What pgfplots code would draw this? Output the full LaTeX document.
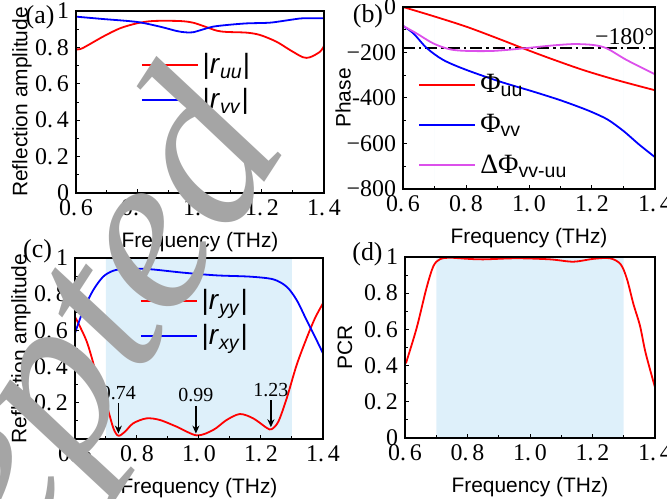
\documentclass[border=0pt]{standalone}
\usepackage{fontspec}
\setmainfont{Liberation Serif}
\setsansfont{Liberation Sans}
\usepackage{pgfplots}
\pgfplotsset{compat=1.18}
\usetikzlibrary{arrows.meta}

\definecolor{band}{RGB}{222,240,250}
\definecolor{cred}{RGB}{255,0,0}
\definecolor{cblue}{RGB}{0,0,255}
\definecolor{cmag}{RGB}{220,80,235}
\definecolor{wm}{RGB}{165,165,165}

\pgfplotsset{
  panel/.style={
    scale only axis, anchor=south west, axis on top,
    xmin=0.6, xmax=1.4,
    xtick={0.6,0.8,1.0,1.2,1.4},
    xticklabels={0.\,6,0.\,8,1.\,0,1.\,2,1.\,4},
    minor x tick num=1, minor y tick num=1,
    tick align=inside, xtick pos=bottom, ytick pos=left,
    major tick length=2.2bp, minor tick length=1.3bp,
    tick style={black, line width=0.5bp},
    axis line style={line width=0.7bp},
    ticklabel style={font=\rmfamily\fontsize{12}{13}\selectfont},
    xlabel={Frequency (THz)},
    every axis x label/.style={at={(0.5,-0.27)}, anchor=center, font=\sffamily\fontsize{10.5}{12}\selectfont},
    legend image code/.code={\draw[##1] (0bp,0bp) -- (28bp,0bp);},
    legend style={draw=none, fill=none, anchor=north west, inner sep=0pt,
      font=\sffamily\fontsize{14}{16}\selectfont, row sep=2bp, cells={anchor=west}},
    legend cell align=left,
    clip mode=individual,
  },
  ylab/.style={every axis y label/.style={at={(#1,0.5)}, rotate=90, anchor=center,
      font=\sffamily\fontsize{10.5}{12}\selectfont}},
  curve/.style={line width=0.9bp, smooth, tension=0.5, no marks},
}

\begin{document}
\begin{tikzpicture}
\useasboundingbox (0,0) rectangle (333.5bp,-249.5bp);

% (a)
\begin{axis}[panel, at={(38bp,-96.5bp)}, width=124bp, height=91bp,
  ymin=0, ymax=1, ytick={0,0.2,0.4,0.6,0.8,1},
  yticklabels={0,0.\,2,0.\,4,0.\,6,0.\,8,1},
  ylabel={Reflection amplitude}, ylab=-0.218,
  legend style={at={(0.26,0.79)}}]
\addplot[curve, cred] coordinates {
 (0.600,0.790) (0.620,0.795) (0.687,0.859) (0.742,0.905) (0.796,0.932) (0.848,0.945)
 (0.935,0.945) (0.977,0.936) (1.010,0.918) (1.054,0.892) (1.086,0.885) (1.151,0.881)
 (1.194,0.868) (1.247,0.831) (1.290,0.786) (1.332,0.746) (1.355,0.746) (1.387,0.776)
 (1.400,0.808)};
\addplot[curve, cblue] coordinates {
 (0.600,0.969) (0.687,0.956) (0.796,0.940) (0.871,0.914) (0.925,0.890) (0.952,0.883)
 (0.977,0.883) (1.010,0.899) (1.042,0.914) (1.086,0.923) (1.151,0.932) (1.226,0.936)
 (1.290,0.951) (1.332,0.960) (1.400,0.960)};
\legend{\textbar\textit{r}\textsubscript{\textit{uu}}\textbar, \textbar\textit{r}\textsubscript{\textit{vv}}\textbar}
\end{axis}

% (b)
\begin{axis}[panel, at={(201.5bp,-94.5bp)}, width=126bp, height=91bp,
  ymin=-800, ymax=0, ytick={-800,-600,-400,-200,0},
  yticklabels={−800,−600,-400,−200,0},
  ylabel={Phase}, ylab=-0.238,
  legend style={at={(0.06,0.655)}, row sep=5.5bp}]
\addplot[fill=band, draw=none, forget plot] coordinates {(0.7,-800) (0.7,0) (1.3,0) (1.3,-800)} \closedcycle;
\addplot[black, line width=0.8bp, dash pattern=on 6bp off 2bp on 1.2bp off 2bp, forget plot] coordinates {(0.6,-180) (1.4,-180)};
\addplot[curve, cred] coordinates {
 (0.600,0) (0.696,-40) (0.802,-87) (0.908,-142) (0.982,-182) (1.067,-226)
 (1.172,-277) (1.278,-321) (1.400,-366)};
\addplot[curve, cblue] coordinates {
 (0.600,-83) (0.633,-116) (0.675,-180) (0.728,-233) (0.802,-277) (0.908,-328)
 (1.014,-372) (1.098,-409) (1.160,-440) (1.200,-462) (1.250,-495) (1.300,-545) (1.350,-605) (1.400,-660)};
\addplot[curve, cmag] coordinates {
 (0.600,-83) (0.643,-116) (0.696,-160) (0.749,-186) (0.802,-193) (0.887,-193)
 (0.982,-182) (1.067,-170) (1.141,-163) (1.204,-167) (1.247,-182) (1.310,-233) (1.400,-296)};
\node[anchor=east, inner sep=0pt, font=\rmfamily\fontsize{12}{14}\selectfont] at (axis cs:1.398,-132) {−180°};
\legend{{\rmfamily Φ}\textsubscript{uu}, {\rmfamily Φ}\textsubscript{vv}, {\rmfamily ΔΦ}\textsubscript{vv-uu}}
\end{axis}

% (c)
\begin{axis}[panel, at={(37.5bp,-219.5bp)}, width=124bp, height=90.5bp,
  ymin=0, ymax=1, ytick={0,0.2,0.4,0.6,0.8,1},
  yticklabels={0,0.\,2,0.\,4,0.\,6,0.\,8,1},
  ylabel={Reflection amplitude}, ylab=-0.218,
  legend style={at={(0.26,0.85)}}]
\addplot[fill=band, draw=none, forget plot] coordinates {(0.7,0) (0.7,1) (1.3,1) (1.3,0)} \closedcycle;
\addplot[curve, cred] coordinates {
 (0.600,0.675) (0.638,0.538) (0.670,0.354) (0.702,0.188) (0.724,0.059) (0.740,0.018)
 (0.761,0.040) (0.788,0.087) (0.831,0.114) (0.874,0.105) (0.928,0.068) (0.993,0.020)
 (1.046,0.050) (1.089,0.105) (1.132,0.138) (1.175,0.114) (1.218,0.062) (1.234,0.054)
 (1.256,0.096) (1.283,0.225) (1.315,0.409) (1.347,0.556) (1.374,0.667) (1.400,0.750)};
\addplot[curve, cblue] coordinates {
 (0.600,0.585) (0.627,0.713) (0.659,0.823) (0.691,0.897) (0.724,0.930) (0.767,0.941)
 (0.842,0.938) (0.949,0.919) (1.057,0.904) (1.165,0.897) (1.240,0.882) (1.283,0.841)
 (1.315,0.768) (1.347,0.657) (1.374,0.565) (1.400,0.473)};
\draw[-{Stealth[length=4bp,width=3.5bp]}, line width=0.8bp] (axis cs:0.740,0.200) -- (axis cs:0.740,0.030);
\draw[-{Stealth[length=4bp,width=3.5bp]}, line width=0.8bp] (axis cs:0.990,0.185) -- (axis cs:0.990,0.030);
\draw[-{Stealth[length=4bp,width=3.5bp]}, line width=0.8bp] (axis cs:1.232,0.215) -- (axis cs:1.232,0.065);
\node[anchor=south, inner sep=1bp, font=\rmfamily\fontsize{10}{11}\selectfont] at (axis cs:0.740,0.205) {0.74};
\node[anchor=south, inner sep=1bp, font=\rmfamily\fontsize{10}{11}\selectfont] at (axis cs:0.990,0.190) {0.99};
\node[anchor=south, inner sep=1bp, font=\rmfamily\fontsize{10}{11}\selectfont] at (axis cs:1.232,0.220) {1.23};
\legend{\textbar\textit{r}\textsubscript{\textit{yy}}\textbar, \textbar\textit{r}\textsubscript{\textit{xy}}\textbar}
\end{axis}

% (d)
\begin{axis}[panel, at={(202.5bp,-219bp)}, width=125bp, height=90.5bp,
  ymin=0, ymax=1, ytick={0,0.2,0.4,0.6,0.8,1},
  yticklabels={0,0.\,2,0.\,4,0.\,6,0.\,8,1},
  ylabel={PCR}, ylab=-0.24]
\addplot[fill=band, draw=none, forget plot] coordinates {(0.7,0) (0.7,1) (1.3,1) (1.3,0)} \closedcycle;
\addplot[curve, cred] coordinates {
 (0.603,0.413) (0.637,0.606) (0.669,0.830) (0.691,0.950) (0.712,0.988) (0.744,0.996)
 (0.800,0.990) (0.851,0.987) (0.957,0.993) (1.064,0.987) (1.139,0.974) (1.203,0.990)
 (1.256,0.993) (1.290,0.960) (1.310,0.880) (1.331,0.740) (1.352,0.620) (1.370,0.470) (1.400,0.280)};
\end{axis}

\node[font=\rmfamily\fontsize{13}{15}\selectfont] at (20bp,-8.5bp) {(a)};
\node[font=\rmfamily\fontsize{13}{15}\selectfont] at (184bp,-8bp) {(b)};
\node[font=\rmfamily\fontsize{13}{15}\selectfont] at (18.75bp,-125.75bp) {(c)};
\node[font=\rmfamily\fontsize{13}{15}\selectfont] at (183.75bp,-127bp) {(d)};

\node[overlay, rotate=57, anchor=base west, inner sep=0pt, text=wm,
  font=\rmfamily\itshape\fontsize{115}{115}\selectfont] at (-84bp,-424bp) {Accepted};
\end{tikzpicture}
\end{document}
